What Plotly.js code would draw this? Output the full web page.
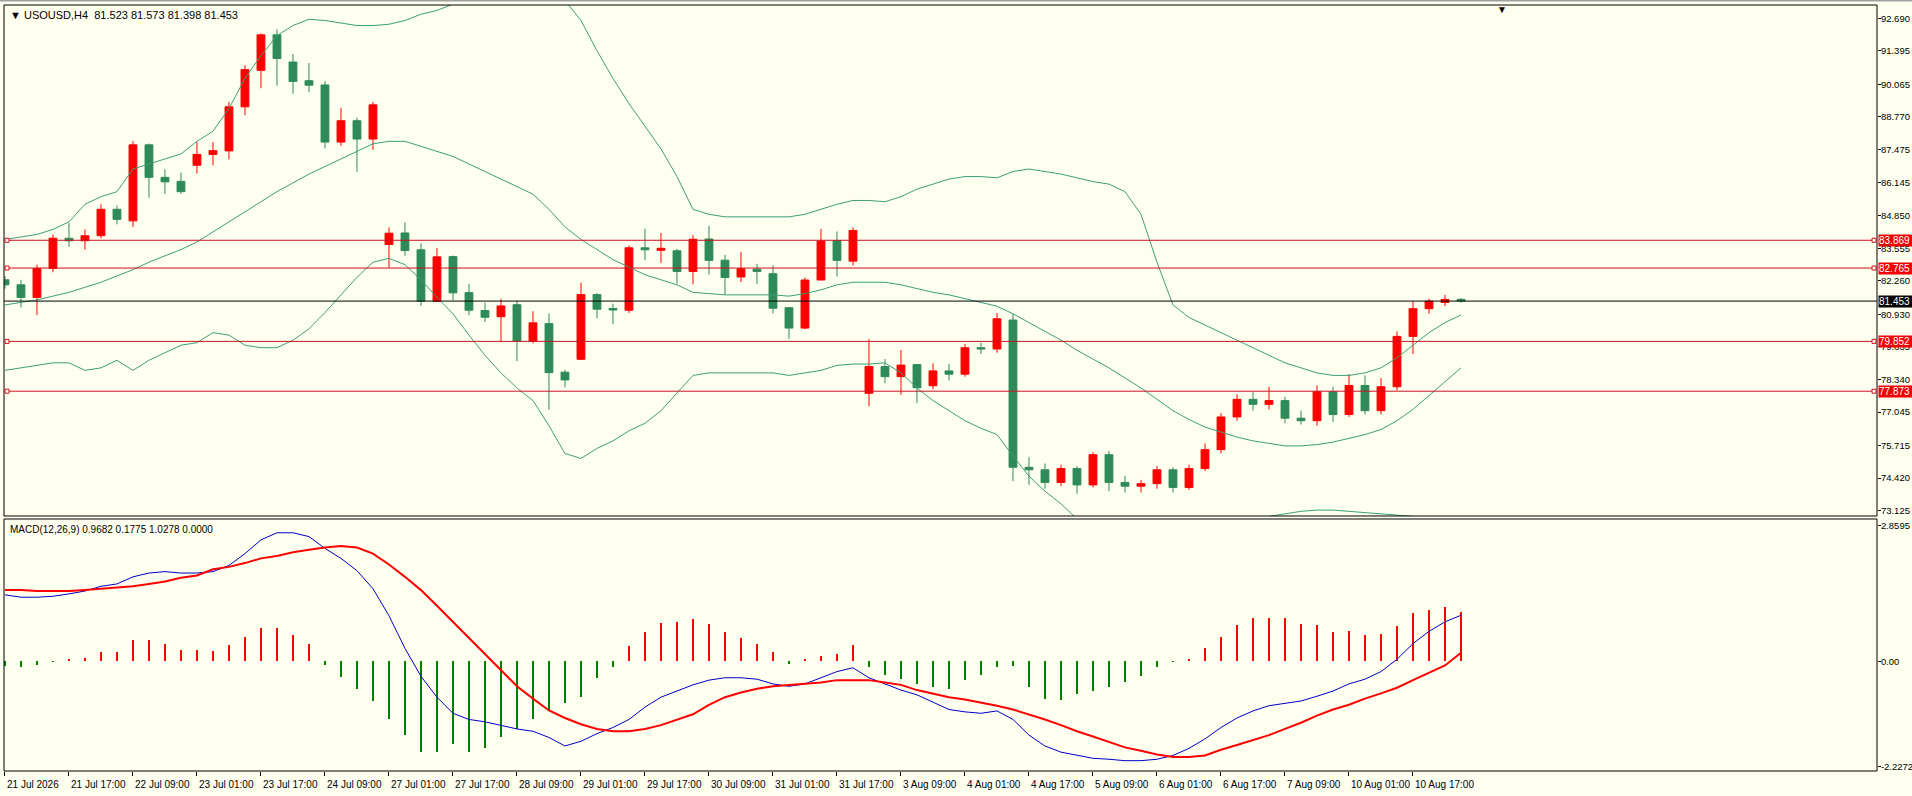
<!DOCTYPE html>
<html>
<head>
<meta charset="utf-8">
<script src="https://cdn.plot.ly/plotly-3.0.1.min.js"></script>
<style>
  html, body { margin: 0; padding: 0; background: #fffff0; }
  #chart { width: 1912px; height: 796px; }
</style>
</head>
<body>
<div id="chart"></div>
<script>
// USOUSD H4 : candles + Bollinger(20,2) + MACD(12,26,9) sub window

// time axis labels (one every 4 bars)
const labelBars = [0, 4, 8, 12, 16, 20, 24, 28, 32, 36, 40, 44, 48, 52, 56, 60, 64, 68, 72, 76, 80, 84, 88];
const timeLabels = ['21 Jul 2026', '21 Jul 17:00', '22 Jul 09:00', '23 Jul 01:00', '23 Jul 17:00',
  '24 Jul 09:00', '27 Jul 01:00', '27 Jul 17:00', '28 Jul 09:00', '29 Jul 01:00', '29 Jul 17:00',
  '30 Jul 09:00', '31 Jul 01:00', '31 Jul 17:00', '3 Aug 09:00', '4 Aug 01:00', '4 Aug 17:00',
  '5 Aug 09:00', '6 Aug 01:00', '6 Aug 17:00', '7 Aug 09:00', '10 Aug 01:00', '10 Aug 17:00'];

// OHLC
const opens = [
  82.30, 82.10, 81.60, 82.75, 83.95, 83.85, 84.05, 85.10, 84.64, 87.66,
  86.37, 86.21, 86.85, 87.28, 87.42, 89.17, 90.62, 92.03, 90.95, 90.21,
  90.04, 87.77, 88.62, 87.89, 83.70, 84.16, 83.49, 81.45, 83.22, 81.79,
  81.08, 80.83, 81.31, 79.86, 80.56, 78.63, 79.14, 81.71, 81.16, 81.09,
  83.57, 83.47, 83.45, 82.63, 83.92, 83.08, 82.41, 82.72, 82.54, 81.19,
  80.38, 82.29, 83.86, 83.04, 77.79, 78.85, 78.45, 78.93, 78.09, 78.68,
  78.55, 79.60, 79.55, 80.70, 74.85, 74.75, 74.25, 74.80, 74.15, 75.35,
  74.25, 74.10, 74.20, 74.75, 74.05, 74.80, 75.55, 76.85, 77.55, 77.35,
  77.50, 76.80, 76.70, 77.85, 76.95, 78.10, 77.10, 78.05, 80.05, 81.15,
  81.40, 81.523];
const highs = [
  82.45, 82.30, 82.90, 84.10, 84.55, 84.30, 85.30, 85.25, 87.81, 87.71,
  86.69, 86.56, 87.77, 87.77, 89.37, 90.82, 92.08, 92.25, 91.27, 90.91,
  90.20, 89.13, 88.74, 89.37, 84.38, 84.58, 83.75, 83.57, 83.26, 82.14,
  81.39, 81.55, 81.46, 81.05, 80.96, 78.72, 82.18, 81.77, 81.35, 83.66,
  84.33, 84.16, 83.53, 84.07, 84.44, 83.29, 83.40, 82.93, 82.87, 81.22,
  82.39, 84.32, 84.22, 84.38, 79.94, 79.15, 79.51, 78.95, 78.98, 78.95,
  79.75, 79.80, 80.98, 80.95, 75.25, 75.00, 74.95, 74.90, 75.45, 75.50,
  74.50, 74.35, 74.90, 74.85, 74.95, 75.80, 77.00, 77.75, 77.85, 78.05,
  77.65, 77.10, 78.10, 78.05, 78.55, 78.50, 78.40, 80.25, 81.45, 81.55,
  81.70, 81.573];
const lows = [
  81.95, 81.20, 80.90, 82.60, 83.60, 83.50, 83.95, 84.50, 84.40, 85.56,
  85.70, 85.71, 86.52, 86.85, 87.08, 88.84, 89.91, 90.01, 89.69, 89.75,
  87.52, 87.62, 86.59, 87.46, 82.78, 83.26, 81.25, 81.42, 81.48, 80.89,
  80.62, 79.84, 79.07, 79.77, 77.14, 78.03, 79.13, 80.77, 80.54, 80.98,
  83.09, 82.97, 82.14, 82.12, 82.51, 81.71, 82.20, 82.14, 80.96, 79.94,
  80.33, 82.28, 82.43, 82.87, 77.27, 78.19, 77.73, 77.40, 77.95, 78.30,
  78.45, 79.35, 79.40, 74.30, 74.15, 74.00, 74.10, 73.80, 74.05, 73.90,
  73.85, 73.85, 74.00, 73.85, 73.95, 74.70, 75.40, 76.70, 77.10, 77.15,
  76.60, 76.55, 76.50, 76.65, 76.85, 76.95, 76.95, 77.90, 79.35, 80.95,
  81.25, 81.398];
const closes = [
  82.10, 81.60, 82.75, 83.95, 83.85, 84.05, 85.10, 84.70, 87.66, 86.37,
  86.19, 85.80, 87.28, 87.43, 89.17, 90.65, 92.03, 91.09, 90.18, 90.03,
  87.77, 88.62, 87.89, 89.25, 84.15, 83.46, 81.45, 83.21, 81.78, 81.09,
  80.81, 81.26, 79.86, 80.59, 78.61, 78.32, 81.71, 81.13, 81.10, 83.57,
  83.49, 83.55, 82.63, 83.91, 83.07, 82.39, 82.74, 82.63, 81.17, 80.38,
  82.29, 83.84, 83.07, 84.26, 78.85, 78.45, 78.91, 78.01, 78.68, 78.55,
  79.60, 79.55, 80.75, 74.85, 74.75, 74.25, 74.80, 74.15, 75.35, 74.25,
  74.10, 74.20, 74.75, 74.05, 74.80, 75.55, 76.85, 77.55, 77.35, 77.50,
  76.80, 76.70, 77.85, 76.95, 78.10, 77.10, 78.05, 80.05, 81.15, 81.45,
  81.52, 81.453];

// Bollinger bands
const bbUpper = [
  83.9, 84.0, 84.1, 84.3, 84.6, 85.3, 85.6, 85.8, 86.7, 86.9,
  87.1, 87.3, 87.8, 88.2, 89.1, 90.3, 91.2, 92.0, 92.4, 92.65,
  92.6, 92.5, 92.4, 92.4, 92.45, 92.6, 92.85, 93.0, 93.25, 93.5,
  93.75, 93.9, 94.0, 93.9, 93.7, 93.4, 92.6, 91.4, 90.3, 89.3,
  88.4, 87.5, 86.4, 85.1, 84.9, 84.8, 84.8, 84.8, 84.8, 84.8,
  84.9, 85.1, 85.3, 85.45, 85.45, 85.4, 85.6, 85.9, 86.1, 86.3,
  86.4, 86.4, 86.35, 86.6, 86.7, 86.6, 86.5, 86.35, 86.2, 86.1,
  85.8, 84.9, 83.0, 81.3, 80.8, 80.5, 80.2, 79.9, 79.6, 79.3,
  79.0, 78.8, 78.6, 78.5, 78.5, 78.6, 78.8, 79.2, 79.7, 80.2,
  80.6, 80.9];
const bbMiddle = [
  81.3, 81.4, 81.5, 81.65, 81.8, 82.0, 82.2, 82.45, 82.7, 83.0,
  83.25, 83.5, 83.8, 84.2, 84.6, 85.0, 85.4, 85.8, 86.15, 86.5,
  86.8, 87.1, 87.4, 87.7, 87.8, 87.8, 87.6, 87.4, 87.2, 86.9,
  86.6, 86.3, 86.0, 85.7, 85.1, 84.4, 83.9, 83.5, 83.1, 82.8,
  82.5, 82.3, 82.1, 81.8, 81.75, 81.7, 81.7, 81.7, 81.7, 81.65,
  81.75, 81.9, 82.1, 82.2, 82.2, 82.2, 82.1, 81.95, 81.8, 81.7,
  81.55, 81.4, 81.25, 80.95, 80.6, 80.25, 79.9, 79.5, 79.15, 78.8,
  78.4, 78.0, 77.55, 77.1, 76.75, 76.45, 76.25, 76.05, 75.9, 75.8,
  75.7, 75.7, 75.75, 75.85, 76.0, 76.15, 76.35, 76.7, 77.15, 77.7,
  78.25, 78.8];
const bbLower = [
  78.7, 78.8, 78.9, 79.0, 79.0, 78.7, 78.8, 79.1, 78.7, 79.1,
  79.4, 79.7, 79.8, 80.2, 80.1, 79.7, 79.6, 79.6, 79.9, 80.35,
  81.0, 81.7, 82.4, 83.0, 83.15, 82.9, 82.3, 81.6, 80.95, 80.1,
  79.3, 78.6, 78.0, 77.5, 76.5, 75.4, 75.2, 75.6, 75.9, 76.3,
  76.6, 77.1, 77.8, 78.5, 78.6, 78.6, 78.6, 78.6, 78.6, 78.5,
  78.6, 78.7, 78.9, 78.95, 78.95, 79.0, 78.6, 78.0, 77.5, 77.1,
  76.7, 76.4, 76.15, 75.3, 74.5, 73.9, 73.4, 72.8, 72.4, 72.1,
  71.9, 71.8, 71.9, 72.0, 72.1, 72.2, 72.3, 72.5, 72.7, 72.9,
  73.0, 73.1, 73.15, 73.15, 73.1, 73.05, 73.0, 72.95, 72.9, 72.85,
  72.8, 72.8];

// MACD sub window
const macdMain = [
  1.40, 1.35, 1.35, 1.37, 1.42, 1.48, 1.58, 1.63, 1.78, 1.86,
  1.89, 1.86, 1.86, 1.89, 2.02, 2.27, 2.56, 2.71, 2.71, 2.63,
  2.38, 2.17, 1.91, 1.53, 0.96, 0.27, -0.32, -0.76, -1.10, -1.23,
  -1.28, -1.35, -1.43, -1.48, -1.61, -1.79, -1.69, -1.53, -1.40, -1.23,
  -0.97, -0.76, -0.63, -0.50, -0.40, -0.35, -0.35, -0.38, -0.48, -0.53,
  -0.48, -0.35, -0.22, -0.14, -0.35, -0.48, -0.61, -0.71, -0.87, -1.02,
  -1.07, -1.10, -1.05, -1.23, -1.56, -1.79, -1.92, -1.99, -2.05, -2.07,
  -2.10, -2.10, -2.07, -1.99, -1.84, -1.64, -1.40, -1.20, -1.05, -0.94,
  -0.89, -0.84, -0.74, -0.63, -0.48, -0.38, -0.22, 0.04, 0.37, 0.63,
  0.83, 0.9682];
const macdSignal = [
  1.50, 1.50, 1.48, 1.48, 1.48, 1.50, 1.53, 1.55, 1.58, 1.63,
  1.68, 1.76, 1.81, 1.94, 1.99, 2.07, 2.17, 2.22, 2.30, 2.35,
  2.40, 2.43, 2.40, 2.27, 2.04, 1.78, 1.50, 1.17, 0.83, 0.50,
  0.16, -0.20, -0.53, -0.79, -1.04, -1.20, -1.33, -1.43, -1.48, -1.48,
  -1.43, -1.35, -1.23, -1.12, -0.92, -0.76, -0.66, -0.58, -0.53, -0.50,
  -0.48, -0.45, -0.40, -0.40, -0.40, -0.45, -0.50, -0.61, -0.68, -0.76,
  -0.81, -0.87, -0.94, -1.02, -1.12, -1.23, -1.35, -1.48, -1.59, -1.71,
  -1.82, -1.89, -1.97, -2.02, -2.02, -1.99, -1.87, -1.77, -1.66, -1.56,
  -1.43, -1.30, -1.15, -1.02, -0.92, -0.79, -0.68, -0.56, -0.40, -0.25,
  -0.09, 0.1775];
const macdHist = [
  -0.10, -0.12, -0.08, -0.02, 0.05, 0.06, 0.20, 0.19, 0.45, 0.45,
  0.36, 0.24, 0.24, 0.22, 0.34, 0.52, 0.71, 0.71, 0.55, 0.36,
  -0.09, -0.33, -0.58, -0.84, -1.23, -1.56, -1.92, -1.92, -1.74, -1.92,
  -1.84, -1.59, -1.43, -1.23, -1.05, -0.89, -0.76, -0.35, -0.12, 0.32,
  0.61, 0.80, 0.82, 0.88, 0.79, 0.61, 0.48, 0.36, 0.20, -0.06,
  0.05, 0.10, 0.15, 0.34, -0.12, -0.30, -0.38, -0.48, -0.55, -0.58,
  -0.40, -0.30, -0.12, -0.10, -0.55, -0.80, -0.82, -0.70, -0.62, -0.55,
  -0.45, -0.32, -0.12, -0.02, 0.04, 0.27, 0.52, 0.76, 0.91, 0.92,
  0.91, 0.78, 0.76, 0.62, 0.64, 0.55, 0.57, 0.74, 1.01, 1.09,
  1.14, 1.0278];

// price scale and lines
const priceTicks = [92.690, 91.395, 90.065, 88.770, 87.475, 86.145, 84.850, 83.555,
  82.260, 80.930, 79.635, 78.340, 77.045, 75.715, 74.420, 73.125];
const redLevels = [83.869, 82.765, 79.852, 77.873];
const bidPrice = 81.453;
const macdTicks = [2.8595, 0.0, -2.2272];
const macdTickText = ['2.8595', '0.00', '-2.2272'];

const symbolHeader = 'USOUSD,H4  81.523 81.573 81.398 81.453';
const macdHeader = 'MACD(12,26,9) 0.9682 0.1775 1.0278 0.0000';

const bars = opens.map((_, i) => i);
const FONT = 'Liberation Sans, Arial, sans-serif';
const BG = '#fffff0';
const BB_COLOR = '#3d9f78';
const LEVEL_COLOR = '#cc1020';

// pane geometry (fractions of the plot area)
const mainDomain = [0.3329, 1];
const macdDomain = [0, 0.329];

const traces = [
  {
    type: 'candlestick', x: bars, open: opens, high: highs, low: lows, close: closes,
    xaxis: 'x', yaxis: 'y',
    increasing: { line: { color: '#ff0000', width: 1 }, fillcolor: '#ff0000' },
    decreasing: { line: { color: '#2e8b57', width: 1 }, fillcolor: '#2e8b57' },
    whiskerwidth: 0, hoverinfo: 'skip', showlegend: false
  },
  { type: 'scatter', mode: 'lines', x: bars, y: bbUpper, xaxis: 'x', yaxis: 'y',
    line: { color: BB_COLOR, width: 1 }, hoverinfo: 'skip', showlegend: false },
  { type: 'scatter', mode: 'lines', x: bars, y: bbMiddle, xaxis: 'x', yaxis: 'y',
    line: { color: BB_COLOR, width: 1 }, hoverinfo: 'skip', showlegend: false },
  { type: 'scatter', mode: 'lines', x: bars, y: bbLower, xaxis: 'x', yaxis: 'y',
    line: { color: BB_COLOR, width: 1 }, hoverinfo: 'skip', showlegend: false },
  { type: 'bar', x: bars, y: macdHist, xaxis: 'x', yaxis: 'y2', width: 0.14,
    marker: { color: macdHist.map(v => v >= 0 ? '#ff0000' : '#008000') },
    hoverinfo: 'skip', showlegend: false },
  { type: 'scatter', mode: 'lines', x: bars, y: macdMain, xaxis: 'x', yaxis: 'y2',
    line: { color: '#0000c8', width: 1 }, hoverinfo: 'skip', showlegend: false },
  { type: 'scatter', mode: 'lines', x: bars, y: macdSignal, xaxis: 'x', yaxis: 'y2',
    line: { color: '#ff0000', width: 2 }, hoverinfo: 'skip', showlegend: false }
];

const shapes = [];
const annotations = [];

// pane frames
shapes.push({ type: 'rect', xref: 'paper', yref: 'paper', x0: 0, x1: 1,
  y0: mainDomain[0], y1: mainDomain[1], line: { color: '#000', width: 1 } });
shapes.push({ type: 'rect', xref: 'paper', yref: 'paper', x0: 0, x1: 1,
  y0: macdDomain[0], y1: macdDomain[1], line: { color: '#000', width: 1 } });

// horizontal lines with end squares and price boxes
redLevels.forEach(v => {
  shapes.push({ type: 'line', xref: 'paper', yref: 'y', x0: 0, x1: 1, y0: v, y1: v,
    line: { color: LEVEL_COLOR, width: 1 } });
  [0.0016, 0.9984].forEach(px => {
    shapes.push({ type: 'rect', xref: 'paper', yref: 'y', xsizemode: 'pixel', ysizemode: 'pixel',
      xanchor: px, yanchor: v, x0: -2, x1: 2, y0: -2, y1: 2,
      line: { color: LEVEL_COLOR, width: 1 }, fillcolor: BG });
  });
  annotations.push({ xref: 'paper', yref: 'y', x: 1, y: v, xanchor: 'left', yanchor: 'middle',
    xshift: 1, text: v.toFixed(3), showarrow: false, bgcolor: '#f00000', borderpad: 0,
    width: 33, align: 'left', font: { family: FONT, size: 10, color: '#ffffff' } });
});
shapes.push({ type: 'line', xref: 'paper', yref: 'y', x0: 0, x1: 1, y0: bidPrice, y1: bidPrice,
  line: { color: '#000000', width: 1 } });
annotations.push({ xref: 'paper', yref: 'y', x: 1, y: bidPrice, xanchor: 'left', yanchor: 'middle',
  xshift: 1, text: bidPrice.toFixed(3), showarrow: false, bgcolor: '#000000', borderpad: 0,
  width: 33, align: 'left', font: { family: FONT, size: 10, color: '#ffffff' } });

// time labels, left aligned on their tick like the terminal does
labelBars.forEach((b, k) => {
  annotations.push({ xref: 'x', yref: 'paper', x: b, y: 0, xanchor: 'left', yanchor: 'top',
    yshift: -6, xshift: 0, text: timeLabels[k], showarrow: false,
    font: { family: FONT, size: 10, color: '#000' } });
});

// window headers
annotations.push({ xref: 'paper', yref: 'paper', x: 0, y: 1, xanchor: 'left', yanchor: 'top',
  xshift: 4, yshift: -2, text: '▼ ' + symbolHeader, showarrow: false,
  font: { family: FONT, size: 11, color: '#000' } });
annotations.push({ xref: 'paper', yref: 'paper', x: 0, y: macdDomain[1], xanchor: 'left', yanchor: 'top',
  xshift: 4, yshift: -3, text: macdHeader, showarrow: false,
  font: { family: FONT, size: 10, color: '#000' } });
// chart shift marker
annotations.push({ xref: 'paper', yref: 'paper', x: 0.7998, y: 1, xanchor: 'center', yanchor: 'top',
  yshift: 3, text: '▼', showarrow: false, font: { family: FONT, size: 10, color: '#000' } });

// grey window edge at the top
shapes.push({ type: 'rect', xref: 'paper', yref: 'paper', x0: -0.01, x1: 1.03, y0: 1.0045, y1: 1.01,
  line: { width: 0 }, fillcolor: '#a0a0a0' });

const axisFont = { family: FONT, size: 9.5, color: '#000' };

const layout = {
  width: 1912, height: 796,
  margin: { l: 4, r: 35, t: 5, b: 25 },
  paper_bgcolor: BG, plot_bgcolor: BG,
  font: { family: FONT, size: 10, color: '#000' },
  showlegend: false,
  bargap: 0,
  xaxis: {
    range: [-0.06, 117.0], anchor: 'y2', showgrid: false, zeroline: false,
    tickvals: labelBars, showticklabels: false, ticks: 'outside', ticklen: 4,
    tickcolor: '#000', showline: false, rangeslider: { visible: false }, fixedrange: true
  },
  yaxis: {
    domain: mainDomain, range: [72.915, 93.216], side: 'right', showgrid: false, zeroline: false,
    tickvals: priceTicks, ticktext: priceTicks.map(v => v.toFixed(3)),
    ticks: 'outside', ticklen: 3, tickcolor: '#000', showline: false, ticklabelstandoff: -2,
    tickfont: axisFont, fixedrange: true
  },
  yaxis2: {
    domain: macdDomain, range: [-2.318, 3.001], side: 'right', showgrid: false, zeroline: false,
    tickvals: macdTicks, ticktext: macdTickText,
    ticks: 'outside', ticklen: 3, tickcolor: '#000', showline: false, ticklabelstandoff: -2,
    tickfont: axisFont, fixedrange: true
  },
  shapes: shapes,
  annotations: annotations
};

Plotly.newPlot('chart', traces, layout, { displayModeBar: false, staticPlot: true });
</script>
</body>
</html>
